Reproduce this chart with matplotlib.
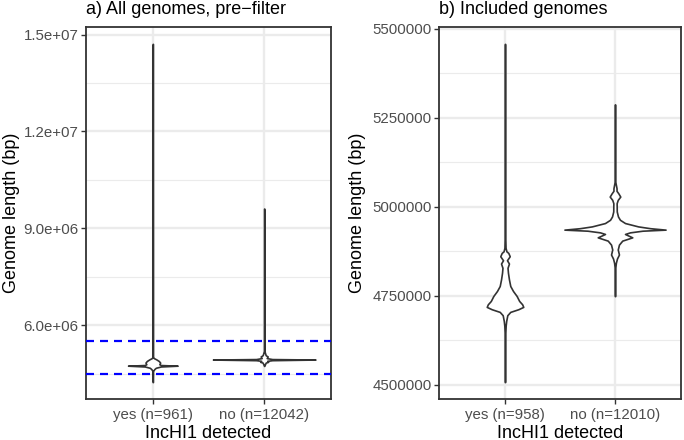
import matplotlib
matplotlib.use("Agg")
import matplotlib.pyplot as plt
from matplotlib.ticker import FuncFormatter, FixedLocator

plt.rcParams["font.family"] = ["Liberation Sans", "DejaVu Sans"]

# groups and counts
CATEGORIES = ["yes", "no"]
N_PRE = [961, 12042]
N_INC = [958, 12010]
CUTOFFS = [4.5e6, 5.5e6]  # length filter (dashed lines)

# violin outlines:
# genome length (bp) and half width of the violin (x units)
PRE_YES_LEN = [4.237e6, 4.58e6, 4.64e6, 4.68e6, 4.72e6, 4.745e6, 4.765e6, 4.79e6,
               4.84e6, 4.89e6, 4.94e6, 4.98e6, 5.02e6, 1.471e7]
PRE_YES_HALF = [0.001, 0.002, 0.0135, 0.027, 0.072, 0.2225, 0.072, 0.0585,
                0.066, 0.054, 0.0315, 0.009, 0.002, 0.001]

PRE_NO_LEN = [4.738e6, 4.84e6, 4.865e6, 4.895e6, 4.915e6, 4.935e6, 4.95e6, 4.98e6,
              5.03e6, 5.07e6, 5.2e6, 9.61e6]
PRE_NO_HALF = [0.001, 0.0135, 0.036, 0.027, 0.072, 0.46, 0.072, 0.0225,
               0.0315, 0.0135, 0.002, 0.001]

INC_YES_LEN = [4.5075e6, 4.64e6, 4.666e6, 4.6796e6, 4.6955e6, 4.7048e6, 4.7123e6,
               4.7188e6, 4.7262e6, 4.7355e6, 4.7495e6, 4.7635e6, 4.7775e6, 4.7961e6,
               4.8147e6, 4.8287e6, 4.8407e6, 4.85e6, 4.8612e6, 4.8706e6, 4.875e6,
               4.885e6, 4.92e6, 5.458e6]
INC_YES_HALF = [0.001, 0.002, 0.006, 0.011, 0.021, 0.048, 0.121,
                0.166, 0.156, 0.129, 0.106, 0.073, 0.048, 0.036,
                0.027, 0.023, 0.036, 0.018, 0.043, 0.030, 0.013,
                0.005, 0.002, 0.001]

INC_NO_LEN = [4.749e6, 4.83e6, 4.8428e6, 4.8548e6, 4.866e6, 4.88e6, 4.8939e6,
              4.9051e6, 4.9143e6, 4.9238e6, 4.9283e6, 4.933e6, 4.936e6, 4.940e6,
              4.9451e6, 4.9545e6, 4.9637e6, 4.973e6, 4.987e6, 5.0103e6, 5.0196e6,
              5.0289e6, 5.0383e6, 5.045e6, 5.0523e6, 5.07e6, 5.288e6]
INC_NO_HALF = [0.001, 0.003, 0.008, 0.018, 0.036, 0.025, 0.036,
               0.066, 0.157, 0.091, 0.136, 0.25, 0.46, 0.32,
               0.21, 0.091, 0.045, 0.027, 0.016, 0.015, 0.025,
               0.048, 0.030, 0.014, 0.014, 0.003, 0.001]

PRE_TICKS = [6e6, 9e6, 1.2e7, 1.5e7]
INC_TICKS = [4.5e6, 4.75e6, 5.0e6, 5.25e6, 5.5e6]

GRID = "#EBEBEB"
DARK = "#333333"
TICKTXT = "#4D4D4D"


def draw_violin(ax, pos, lens, halfs):
    left = [pos - h for h in halfs]
    right = [pos + h for h in halfs]
    ax.fill_betweenx(lens, left, right, facecolor="white", edgecolor=DARK,
                     linewidth=1.2, zorder=3)


def style_axes(ax, title, counts, ticks, minor):
    ax.set_xlim(0.4, 2.6)
    ax.set_xticks([1, 2])
    ax.set_xticklabels([f"{c} (n={n})" for c, n in zip(CATEGORIES, counts)])
    ax.set_yticks(ticks)
    ax.yaxis.set_minor_locator(FixedLocator(minor))
    ax.grid(True, which="major", color=GRID, linewidth=1.7, zorder=0)
    ax.grid(True, which="minor", axis="y", color=GRID, linewidth=0.85, zorder=0)
    ax.set_axisbelow(True)
    ax.tick_params(which="major", length=3.3, width=1.0, color=DARK,
                   labelcolor=TICKTXT, labelsize=10.8, pad=2)
    ax.tick_params(axis="x", pad=3.5)
    ax.tick_params(which="minor", length=0)
    for sp in ax.spines.values():
        sp.set_color(DARK)
        sp.set_linewidth(1.3)
    ax.set_title(title, loc="left", fontsize=13, pad=9.4)
    ax.set_xlabel("IncHI1 detected", fontsize=13, labelpad=1.5)
    ax.set_ylabel("Genome length (bp)", fontsize=13)


def expand(lo, hi):
    r = hi - lo
    return lo - 0.05 * r, hi + 0.05 * r


fig = plt.figure(figsize=(6.84, 4.40), dpi=100)
ax1 = fig.add_axes([86 / 684, 41 / 440, 245 / 684, 372 / 440])
ax2 = fig.add_axes([439 / 684, 41 / 440, 242 / 684, 372 / 440])

# a) all genomes
draw_violin(ax1, 1, PRE_YES_LEN, PRE_YES_HALF)
draw_violin(ax1, 2, PRE_NO_LEN, PRE_NO_HALF)
for c in CUTOFFS:
    ax1.axhline(c, color="#0000FF", linewidth=1.6, linestyle=(0, (3.6, 2.7)), zorder=4)
ax1.set_ylim(*expand(min(PRE_YES_LEN + PRE_NO_LEN), max(PRE_YES_LEN + PRE_NO_LEN)))
style_axes(ax1, "a) All genomes, pre\u2212filter", N_PRE, PRE_TICKS,
           [4.5e6, 7.5e6, 1.05e7, 1.35e7])
ax1.yaxis.set_major_formatter(FuncFormatter(lambda v, p: f"{v:.1e}"))
ax1.yaxis.set_label_coords(-0.27, 0.5)

# b) included genomes
draw_violin(ax2, 1, INC_YES_LEN, INC_YES_HALF)
draw_violin(ax2, 2, INC_NO_LEN, INC_NO_HALF)
ax2.set_ylim(*expand(min(INC_YES_LEN + INC_NO_LEN), max(INC_YES_LEN + INC_NO_LEN)))
style_axes(ax2, "b) Included genomes", N_INC, INC_TICKS,
           [4.625e6, 4.875e6, 5.125e6, 5.375e6])
ax2.yaxis.set_major_formatter(FuncFormatter(lambda v, p: f"{v:.0f}"))
ax2.yaxis.set_label_coords(-0.30, 0.5)

fig.savefig("out.png", dpi=100, facecolor="white")
